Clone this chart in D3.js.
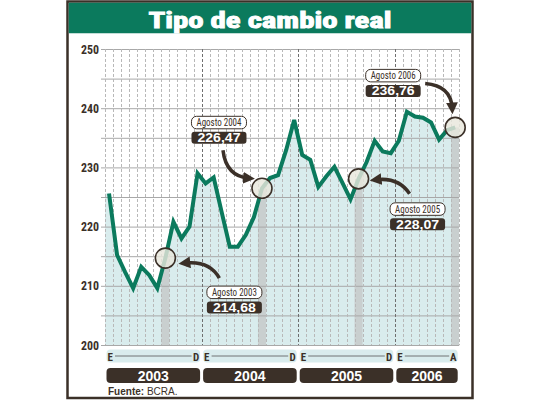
<!DOCTYPE html>
<html><head><meta charset="utf-8">
<script src="https://cdn.jsdelivr.net/npm/d3@7"></script>
<style>body{margin:0;background:#fff}svg{display:block}</style>
</head><body><svg id="c" width="540" height="405"></svg>
<script>
// ---- data ----
const title = "Tipo de cambio real";
const years = ["2003", "2004", "2005", "2006"];
const yearStartIdx = [0, 12, 24, 36];
const yearEndIdx = [11, 23, 35, 43];
const yearStartLetter = ["E", "E", "E", "E"];
const yearEndLetter = ["D", "D", "D", "A"];
const values = [
  225.6, 215.2, 212.3, 209.6, 213.2, 211.8, 209.6, 214.68, 220.8, 218.0, 220.0, 229.0,
  227.3, 228.3, 222.4, 216.6, 216.6, 218.6, 221.6, 226.47, 228.2, 228.7, 232.9, 238.0,
  232.1, 231.3, 226.7, 228.5, 230.1, 227.4, 224.6, 228.07, 230.9, 234.5, 232.7, 232.4,
  234.5, 239.4, 238.6, 238.4, 237.6, 234.7, 236.3, 236.76
];
const yTicks = [200, 210, 220, 230, 240, 250];
const yGrid = [200, 205, 210, 215, 220, 225, 230, 235, 240, 245, 250];
const augustIdx = [7, 19, 31, 43];
const annLabels = ["Agosto 2003", "Agosto 2004", "Agosto 2005", "Agosto 2006"];
const annValues = ["214,68", "226,47", "228,07", "236,76"];
const source = ["Fuente:", " BCRA."];

// ---- layout / style ----
const annLayout = [
  {dx: 69, dy: 28, a0: [54, 20], c: [44, 2], a1: [19, 5]},
  {dx: -43, dy: -72, a0: [-39, -38], c: [-36, -12], a1: [-13, -10]},
  {dx: 59, dy: 24, a0: [51, 15], c: [40, -2], a1: [17, 1]},
  {dx: -62, dy: -58, a0: [-30, -44], c: [-4, -42], a1: [-3, -19]}
];
const GREEN = "#0b7a5d", BROWN = "#3b3028", FILL = "#d9eced", AUG = "#c9cfcf";
const narrow = "'Liberation Sans Narrow','Roboto Condensed','Liberation Sans',Arial,sans-serif";
const sans = "'Liberation Sans',Arial,sans-serif";

const svg = d3.select("#c");
const x = d3.scaleLinear().domain([-0.5, 43.5]).range([105, 459.2]);
const y = d3.scaleLinear().domain([200, 250]).range([345, 49]);

// frame
svg.append("rect").attr("x", 67.5).attr("y", 1.5).attr("width", 405).attr("height", 396.5)
  .attr("fill", "#fff").attr("stroke", BROWN).attr("stroke-width", 2.5);
svg.append("rect").attr("x", 68.75).attr("y", 2.75).attr("width", 402.5).attr("height", 30.5).attr("fill", GREEN);
svg.append("text").attr("x", 270).attr("y", 27.5).attr("text-anchor", "middle")
  .attr("font-family", narrow).attr("font-weight", "bold").attr("font-size", 22)
  .attr("fill", "#fff").attr("stroke", "#fff").attr("stroke-width", 0.9)
  .attr("textLength", 243).attr("lengthAdjust", "spacingAndGlyphs").text(title);

// area under line
const areaPts = [[-0.5, values[0]], ...values.map((v, i) => [i, v]), [43.5, values[values.length - 1]]];
const area = d3.area().x(d => x(d[0])).y0(y(200)).y1(d => y(d[1]));
svg.append("clipPath").attr("id", "ac").append("path").attr("d", area(areaPts));
svg.append("path").attr("d", area(areaPts)).attr("fill", FILL);
svg.append("g").attr("clip-path", "url(#ac)").selectAll("rect").data(augustIdx).join("rect")
  .attr("x", i => x(i - 0.5)).attr("width", i => x(i + 0.5) - x(i - 0.5))
  .attr("y", y(250)).attr("height", y(200) - y(250)).attr("fill", AUG);

// grid
const gH = svg.append("g").attr("transform", "translate(105,0)")
  .call(d3.axisLeft(y).tickValues(yGrid).tickSize(-(459.2 - 105)).tickFormat("").tickSizeOuter(0));
gH.select(".domain").remove();
gH.selectAll("line").attr("stroke", "#a8a8a8").attr("stroke-width", 1).attr("x1", -4);
const monthBounds = d3.range(0, 45).map(k => k - 0.5);
svg.append("g").selectAll("line").data(monthBounds).join("line")
  .attr("x1", d => Math.round(x(d)) + 0.5).attr("x2", d => Math.round(x(d)) + 0.5)
  .attr("y1", y(250)).attr("y2", y(200))
  .attr("stroke", d => ([11.5, 23.5, 35.5].includes(d) ? "#6f6f6f" : "#b8b8b8"))
  .attr("stroke-width", 1).attr("stroke-dasharray", "3,2");

// y labels
svg.append("g").selectAll("text").data(yTicks).join("text")
  .attr("x", 99).attr("y", d => y(d) + 4.5).attr("text-anchor", "end")
  .attr("font-family", narrow).attr("font-weight", "bold").attr("font-size", 13)
  .attr("fill", BROWN).attr("textLength", 18).attr("lengthAdjust", "spacingAndGlyphs").text(d => d);

// line
svg.append("path").datum(values)
  .attr("d", d3.line().x((d, i) => x(i)).y(d => y(d)))
  .attr("fill", "none").attr("stroke", GREEN).attr("stroke-width", 4)
  .attr("stroke-linejoin", "miter").attr("stroke-miterlimit", 4);

// circles
svg.append("g").selectAll("circle").data(augustIdx).join("circle")
  .attr("cx", i => x(i)).attr("cy", i => y(values[i])).attr("r", 10)
  .attr("fill", "#e8e6dc").attr("fill-opacity", 0.82).attr("stroke", BROWN).attr("stroke-width", 1.6);

// arrows
const defs = svg.append("defs");
defs.append("marker").attr("id", "ah").attr("viewBox", "0 0 10 10").attr("refX", 5).attr("refY", 5)
  .attr("markerWidth", 3.4).attr("markerHeight", 3.4).attr("orient", "auto")
  .append("path").attr("d", "M0,0L10,5L0,10Z").attr("fill", BROWN);
augustIdx.forEach((idx, k) => {
  const px = x(idx), py = y(values[idx]), L = annLayout[k];
  const p = d3.path();
  p.moveTo(px + L.a0[0], py + L.a0[1]);
  p.quadraticCurveTo(px + L.c[0], py + L.c[1], px + L.a1[0], py + L.a1[1]);
  svg.append("path").attr("d", p.toString()).attr("fill", "none").attr("stroke", BROWN)
    .attr("stroke-width", 3.5).attr("marker-end", "url(#ah)");
  const cx = px + L.dx, top = py + L.dy, w = 55;
  svg.append("rect").attr("x", cx - w / 2).attr("y", top).attr("width", w).attr("height", 12.5)
    .attr("rx", 5).attr("fill", "#fff").attr("stroke", BROWN).attr("stroke-width", 1);
  svg.append("text").attr("x", cx).attr("y", top + 10).attr("text-anchor", "middle")
    .attr("font-family", narrow).attr("font-size", 10.5).attr("fill", BROWN)
    .attr("textLength", 45).attr("lengthAdjust", "spacingAndGlyphs").text(annLabels[k]);
  svg.append("rect").attr("x", cx - w / 2).attr("y", top + 15.5).attr("width", w).attr("height", 12)
    .attr("rx", 3).attr("fill", BROWN);
  svg.append("text").attr("x", cx).attr("y", top + 26).attr("text-anchor", "middle")
    .attr("font-family", sans).attr("font-weight", "bold").attr("font-size", 12).attr("fill", "#fff")
    .attr("textLength", 43).attr("lengthAdjust", "spacingAndGlyphs").text(annValues[k]);
});

// x axis segments
const seg = svg.append("g").selectAll("g").data(years).join("g");
seg.append("rect").attr("x", (d, i) => x(yearStartIdx[i] - 0.5) + 1.5)
  .attr("width", (d, i) => x(yearEndIdx[i] + 0.5) - x(yearStartIdx[i] - 0.5) - 3)
  .attr("y", 349.5).attr("height", 13).attr("rx", 4).attr("fill", FILL);
seg.append("line").attr("x1", (d, i) => x(yearStartIdx[i] - 0.5) + 10)
  .attr("x2", (d, i) => x(yearEndIdx[i] + 0.5) - 10).attr("y1", 356).attr("y2", 356)
  .attr("stroke", "#555").attr("stroke-width", 0.8);
seg.append("text").attr("x", (d, i) => x(yearStartIdx[i] - 0.5) + 2.5).attr("y", 360.5)
  .attr("font-family", narrow).attr("font-weight", "bold").attr("font-size", 11).attr("fill", BROWN)
  .text((d, i) => yearStartLetter[i]);
seg.append("text").attr("x", (d, i) => x(yearEndIdx[i] + 0.5) - 2.5).attr("y", 360.5).attr("text-anchor", "end")
  .attr("font-family", narrow).attr("font-weight", "bold").attr("font-size", 11).attr("fill", BROWN)
  .text((d, i) => yearEndLetter[i]);
seg.append("rect").attr("x", (d, i) => x(yearStartIdx[i] - 0.5) + 1.5)
  .attr("width", (d, i) => x(yearEndIdx[i] + 0.5) - x(yearStartIdx[i] - 0.5) - 3)
  .attr("y", 368).attr("height", 15).attr("rx", 4).attr("fill", BROWN);
seg.append("text").attr("x", (d, i) => (x(yearStartIdx[i] - 0.5) + x(yearEndIdx[i] + 0.5)) / 2).attr("y", 380.5)
  .attr("text-anchor", "middle").attr("font-family", sans).attr("font-weight", "bold").attr("font-size", 14)
  .attr("fill", "#fff").text(d => d);

// source
const src = svg.append("text").attr("x", 108).attr("y", 395).attr("font-family", sans)
  .attr("font-size", 10).attr("fill", BROWN);
src.append("tspan").attr("font-weight", "bold").text(source[0]);
src.append("tspan").text(source[1]);
</script></body></html>
